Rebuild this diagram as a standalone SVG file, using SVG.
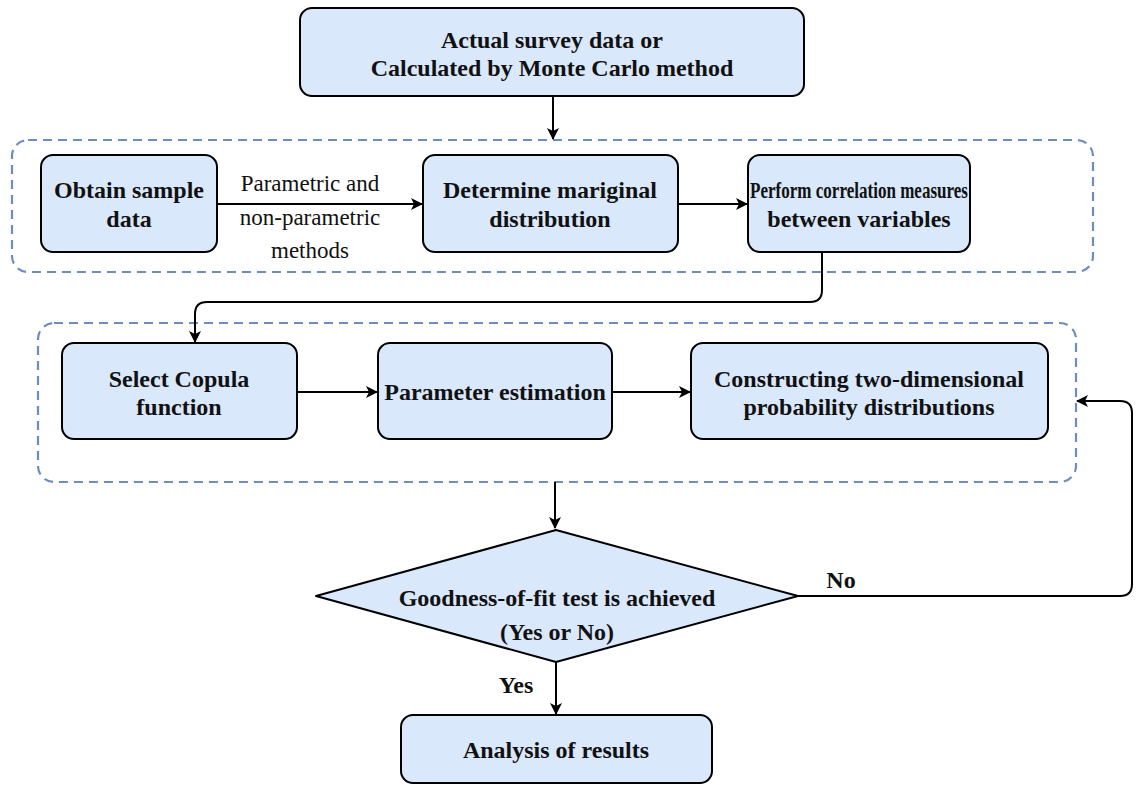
<svg xmlns="http://www.w3.org/2000/svg" width="1147" height="785" viewBox="0 0 1147 785">
<defs>
<marker id="ah" markerWidth="12" markerHeight="12" refX="11" refY="6" orient="auto" markerUnits="userSpaceOnUse">
<path d="M0,0 L12,6 L0,12 L3,6 Z" fill="#000"/>
</marker>
<style>
.box{fill:#dae8fc;stroke:#000;stroke-width:2}
.grp{fill:none;stroke:#6c8ebf;stroke-width:2.2;stroke-dasharray:9 6}
.t{font-family:'Liberation Serif','Times New Roman',serif;font-size:24px;font-weight:bold;text-anchor:middle;fill:#111}
.l{font-family:'Liberation Serif','Times New Roman',serif;font-size:23px;text-anchor:middle;fill:#111}
.c{fill:none;stroke:#000;stroke-width:2}
</style>
</defs>
<rect width="1147" height="785" fill="#fff"/>
<g id="group1"><rect class="grp" x="12" y="140" width="1081" height="132" rx="16"/></g>
<g id="group2"><rect class="grp" x="38" y="323" width="1038" height="159" rx="16"/></g>
<g id="connectors">
<path class="c" d="M553,96 L553,139" marker-end="url(#ah)"/>
<path class="c" d="M217,204 L422,204" marker-end="url(#ah)"/>
<path class="c" d="M678,204 L747,204" marker-end="url(#ah)"/>
<path class="c" d="M822,252 L822,290 Q822,302 810,302 L207,302 Q195,302 195,314 L195,342" marker-end="url(#ah)"/>
<path class="c" d="M297,392 L377,392" marker-end="url(#ah)"/>
<path class="c" d="M612,392 L690,392" marker-end="url(#ah)"/>
<path class="c" d="M555,482 L555,528" marker-end="url(#ah)"/>
<path class="c" d="M798,596 L1120,596 Q1132,596 1132,584 L1132,413 Q1132,401 1120,401 L1077,401" marker-end="url(#ah)"/>
<path class="c" d="M556,662 L556,714" marker-end="url(#ah)"/>
<text class="l" x="310" y="191">Parametric and</text>
<text class="l" x="310" y="225">non-parametric</text>
<text class="l" x="310" y="258">methods</text>
<text class="t" x="841" y="588">No</text>
<text class="t" x="516" y="693">Yes</text>
</g>
<g id="n_source"><rect class="box" x="300" y="8" width="504" height="88" rx="12"/>
<text class="t" x="552" y="48">Actual survey data or</text>
<text class="t" x="552" y="76">Calculated by Monte Carlo method</text></g>
<g id="n_obtain"><rect class="box" x="41" y="155" width="176" height="97" rx="12"/>
<text class="t" x="129" y="198">Obtain sample</text>
<text class="t" x="129" y="227">data</text></g>
<g id="n_determine"><rect class="box" x="423" y="155" width="255" height="97" rx="12"/>
<text class="t" x="550" y="198">Determine mariginal</text>
<text class="t" x="550" y="227">distribution</text></g>
<g id="n_perform"><rect class="box" x="748" y="155" width="222" height="97" rx="12"/>
<text class="t" x="859" y="198" textLength="218" lengthAdjust="spacingAndGlyphs">Perform correlation measures</text>
<text class="t" x="859" y="227">between variables</text></g>
<g id="n_select"><rect class="box" x="62" y="343" width="235" height="96" rx="12"/>
<text class="t" x="179" y="387">Select Copula</text>
<text class="t" x="179" y="415">function</text></g>
<g id="n_param"><rect class="box" x="378" y="343" width="234" height="96" rx="12"/>
<text class="t" x="495" y="400">Parameter estimation</text></g>
<g id="n_construct"><rect class="box" x="691" y="343" width="357" height="96" rx="12"/>
<text class="t" x="869" y="387">Constructing two-dimensional</text>
<text class="t" x="869" y="415">probability distributions</text></g>
<g id="n_decision"><path class="box" d="M556,530 L798,596 L556,662 L316,596 Z" stroke-linejoin="round"/>
<text class="t" x="557" y="606">Goodness-of-fit test is achieved</text>
<text class="t" x="557" y="640">(Yes or No)</text></g>
<g id="n_analysis"><rect class="box" x="401" y="715" width="311" height="68" rx="12"/>
<text class="t" x="556" y="758">Analysis of results</text></g>
</svg>
